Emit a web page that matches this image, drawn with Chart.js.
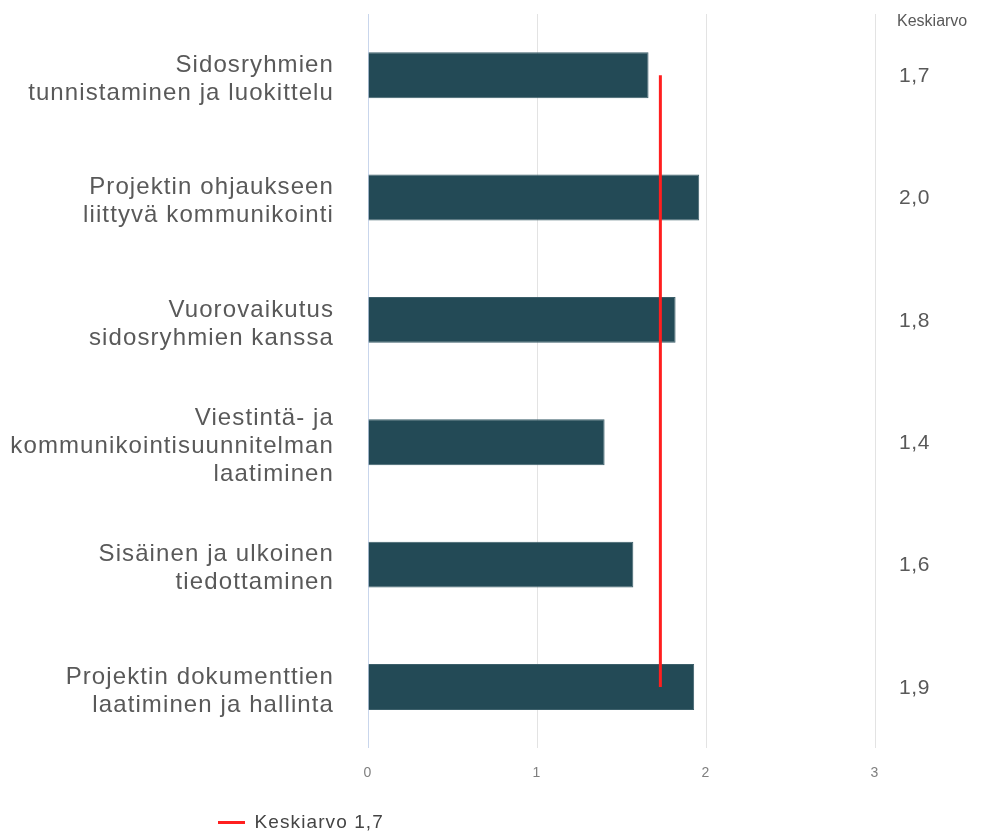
<!DOCTYPE html>
<html>
<head>
<meta charset="utf-8">
<script src="https://cdn.jsdelivr.net/npm/chart.js@4"></script>
<style>
  html, body { margin: 0; padding: 0; background: #ffffff; }
  #wrap { width: 998px; height: 834px; }
</style>
</head>
<body>
<div id="wrap"><canvas id="grafico"></canvas></div>
<script>
// Osa-alueet ja niiden arvot
const alueet = [
    ['Sidosryhmien', 'tunnistaminen ja luokittelu'],
    ['Projektin ohjaukseen', 'liittyvä kommunikointi'],
    ['Vuorovaikutus', 'sidosryhmien kanssa'],
    ['Viestintä- ja', 'kommunikointisuunnitelman', 'laatiminen'],
    ['Sisäinen ja ulkoinen', 'tiedottaminen'],
    ['Projektin dokumenttien', 'laatiminen ja hallinta']
];
const arvot = [1.66, 1.96, 1.82, 1.40, 1.57, 1.93];
const keskiarvo = 1.73;
const xTicks = [0, 1, 2, 3];

const fontti = '"Liberation Sans", Arial, sans-serif';
const muotoile = v => (Math.round(v * 10) / 10).toFixed(1).replace('.', ',');

// Hieman väljempi kirjainväli ja selitteen paikka
const asettelu = {
    id: 'asettelu',
    beforeLayout(chart) { chart.ctx.letterSpacing = '1.1px'; },
    beforeDraw(chart) { chart.ctx.letterSpacing = '1.1px'; },
    afterLayout(chart) {
        chart.legend.left = 212;
        chart.legend.top = 807;
    }
};

// Keskiarvosarake oikealle puolelle
const keskiarvoSarake = {
    id: 'keskiarvoSarake',
    afterDraw(chart) {
        const ctx = chart.ctx;
        const y = chart.scales.y;
        ctx.save();
        ctx.fillStyle = '#595959';
        ctx.textAlign = 'left';
        ctx.textBaseline = 'middle';
        ctx.letterSpacing = '0px';
        ctx.font = '16px ' + fontti;
        ctx.fillText('Keskiarvo', 897, 22);
        ctx.letterSpacing = '0.6px';
        ctx.font = '21px ' + fontti;
        arvot.forEach((v, i) => {
            ctx.fillText(muotoile(v), 899, y.getPixelForValue(i) + 1);
        });
        ctx.restore();
    }
};

const ctx = document.getElementById('grafico').getContext('2d');
const grafico = new Chart(ctx, {
    type: 'bar',
    data: {
        labels: alueet,
        datasets: [{
            label: 'Arvo',
            data: arvot,
            backgroundColor: '#234a56',
            borderColor: '#3c5f6a',
            borderWidth: 1,
            barPercentage: 0.75,
            categoryPercentage: 0.5,
            order: 2
        }, {
            type: 'line',
            label: 'Keskiarvo ' + muotoile(keskiarvo),
            data: arvot.map(() => keskiarvo),
            borderColor: '#ff1f1f',
            backgroundColor: '#ff1f1f',
            borderWidth: 3,
            pointRadius: 0,
            fill: false,
            order: 1
        }]
    },
    options: {
        indexAxis: 'y',
        responsive: true,
        maintainAspectRatio: false,
        animation: false,
        layout: { padding: { top: 14, right: 123, bottom: 0, left: 4 } },
        scales: {
            x: {
                min: 0,
                max: 3,
                afterBuildTicks: axis => { axis.ticks = xTicks.map(v => ({ value: v })); },
                grid: {
                    color: c => c.tick && c.tick.value === 0 ? '#c9d6ec' : '#e3e3e3',
                    lineWidth: 1,
                    drawTicks: false
                },
                border: { display: false },
                ticks: {
                    color: '#7f7f7f',
                    font: { size: 14, family: fontti },
                    padding: 17
                }
            },
            y: {
                afterFit: axis => {
                    axis.width = 364;
                    axis.paddingTop = 0;
                    axis.paddingBottom = 0;
                },
                grid: { display: false },
                border: { display: false },
                ticks: {
                    color: '#595959',
                    font: { size: 24, family: fontti, lineHeight: 1.17 },
                    padding: 26,
                    labelOffset: 4
                }
            }
        },
        plugins: {
            legend: {
                position: 'bottom',
                align: 'start',
                labels: {
                    color: '#444444',
                    font: { size: 19, family: fontti },
                    boxWidth: 27,
                    boxHeight: 3,
                    padding: 6,
                    generateLabels: chart => [{
                        text: chart.data.datasets[1].label,
                        fillStyle: '#ff1f1f',
                        strokeStyle: '#ff1f1f',
                        fontColor: '#444444',
                        lineWidth: 0,
                        datasetIndex: 1
                    }]
                }
            },
            tooltip: { enabled: false }
        }
    },
    plugins: [asettelu, keskiarvoSarake]
});
</script>
</body>
</html>
